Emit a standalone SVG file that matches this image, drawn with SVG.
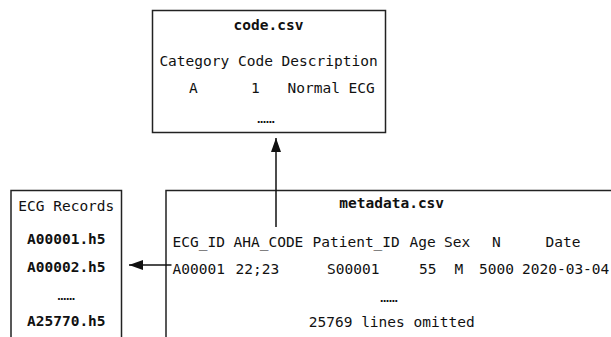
<svg xmlns="http://www.w3.org/2000/svg" width="611" height="337" viewBox="0 0 611 337">
<style>
text{font-family:"DejaVu Sans Mono","Liberation Mono",monospace;font-size:14.5px;fill:#111}
.b{font-weight:bold}
.m{text-anchor:middle}
.box{fill:#fff;stroke:#222;stroke-width:1.5}
.ln{stroke:#111;stroke-width:1.5;fill:none}
.dots{font-size:12px}
</style>
<defs>
<marker id="ah" viewBox="0 0 14 10" refX="14" refY="5" markerWidth="14" markerHeight="10" markerUnits="userSpaceOnUse" orient="auto">
<path d="M0,0 L14,5 L0,10 z" fill="#111"/>
</marker>
</defs>
<rect width="611" height="337" fill="#fff"/>
<g id="code">
<rect class="box" x="152.5" y="10.5" width="233" height="122"/>
<text class="b m" x="268.5" y="30">code.csv</text>
<text class="m" x="268.5" y="66">Category Code Description</text>
<text y="93"><tspan x="189">A</tspan><tspan x="251">1</tspan><tspan x="287.5">Normal ECG</tspan></text>
<text class="m" x="266" y="123">……</text>
</g>
<g id="records">
<rect class="box" x="11" y="190.5" width="110.5" height="160"/>
<text class="m" x="66.3" y="211">ECG Records</text>
<text class="b m" x="66.3" y="244">A00001.h5</text>
<text class="b m" x="66.3" y="272">A00002.h5</text>
<text class="m" x="66.3" y="300">……</text>
<text class="b m" x="66.3" y="326">A25770.h5</text>
</g>
<g id="metadata">
<rect class="box" x="166" y="190.5" width="460" height="160"/>
<text class="b m" x="391.7" y="208">metadata.csv</text>
<text y="247"><tspan x="172.5">ECG_ID</tspan><tspan x="233.5">AHA_CODE</tspan><tspan x="312.5">Patient_ID</tspan><tspan x="409.5">Age</tspan><tspan x="444">Sex</tspan><tspan x="492">N</tspan><tspan x="545.5">Date</tspan></text>
<text y="274"><tspan x="172.5">A00001</tspan><tspan x="235.5">22;23</tspan><tspan x="327">S00001</tspan><tspan x="419">55</tspan><tspan x="454.5">M</tspan><tspan x="479">5000</tspan><tspan x="522">2020-03-04</tspan></text>
<text class="m" x="389" y="302">……</text>
<text class="m" x="391.7" y="327">25769 lines omitted</text>
</g>
<g id="connectors">
<line class="ln" x1="276" y1="227" x2="276" y2="138" marker-end="url(#ah)"/>
<line class="ln" x1="171.5" y1="265" x2="129" y2="265" marker-end="url(#ah)"/>
</g>
</svg>
